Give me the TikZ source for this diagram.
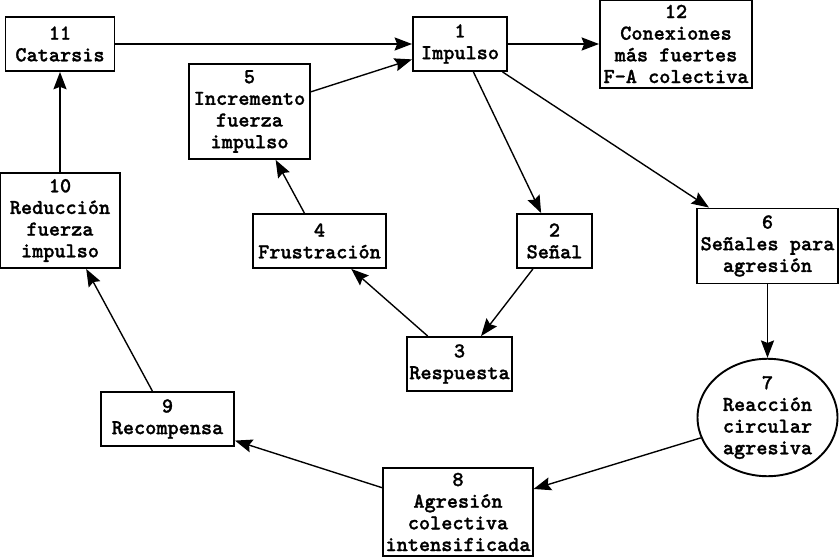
\documentclass[tikz,border=0pt]{standalone}
\usepackage{fontspec}
\newfontfamily\boxfont{lmmonolt10-bold.otf}[FakeBold=1.2]
\usepackage{tikz}
\usetikzlibrary{arrows.meta}
\usetikzlibrary{shapes.geometric}

\begin{document}
\begin{tikzpicture}[x=0.4708pt, y=-0.4708pt,
    box/.style={rectangle, draw, line width=0.9pt, align=center, inner sep=1pt,
      font=\fontsize{10}{10.2}\selectfont\boxfont},
    blob/.style={ellipse, draw, line width=0.9pt, align=center, inner sep=0pt,
      font=\fontsize{10}{10.2}\selectfont\boxfont},
    link/.style={line width=0.65pt, -{Stealth[length=8.2pt, width=6.2pt, inset=1.2pt]}}]
		\useasboundingbox (0,0) rectangle (840,558);

		% Upper row
		\node (Catarsis) at (60,44) [box, minimum width=51.3pt, minimum height=25.4pt] {11\\Catarsis};
		\node (Impulso) at (460,44) [box, minimum width=44.3pt, minimum height=25.4pt] {1\\Impulso};
		\node (Conexiones) at (676,44) [box, minimum width=71.6pt, minimum height=41.4pt] {12\\Conexiones\\más fuertes\\F-A colectiva};

		% Middle rows
		\node (Incremento) at (249.5,111.5) [box, minimum width=57pt, minimum height=44.7pt] {5\\Incremento\\fuerza\\impulso};
		\node (Reduccion) at (60,220.5) [box, minimum width=56.5pt, minimum height=44.7pt] {10\\Reducción\\fuerza\\impulso};
		\node (Frustracion) at (319.5,241) [box, minimum width=62.6pt, minimum height=25.4pt] {4\\Frustración};
		\node (Senal) at (554.5,241) [box, minimum width=35.3pt, minimum height=25.4pt] {2\\Señal};
		\node (Senales) at (767.5,246) [box, minimum width=66.2pt, minimum height=35.3pt] {6\\Señales para\\agresión};
		\node (Respuesta) at (459.5,364) [box, minimum width=49.4pt, minimum height=25.4pt] {3\\Respuesta};

		% Lower rows
		\node (Reaccion) at (767.5,417.5) [blob, minimum width=65.9pt, minimum height=47.6pt] {7\\Reacción\\circular\\agresiva};
		\node (Agresion) at (458,512) [box, minimum width=69.7pt, minimum height=41.4pt] {8\\Agresión\\colectiva\\intensificada};
		\node (Recompensa) at (167.5,419) [box, minimum width=62.6pt, minimum height=25.4pt] {9\\Recompensa};

		% Connections
		\draw [link] (Catarsis) -- (Impulso);
		\draw [link] (Impulso) -- (Conexiones);
		\draw [link] (Impulso) -- (Senal);
		\draw [link] (Impulso) -- (Senales);
		\draw [link] (Senal) -- (Respuesta);
		\draw [link] (Respuesta) -- (Frustracion);
		\draw [link] (Frustracion) -- (Incremento);
		\draw [link] (Incremento) -- (Impulso);
		\draw [link] (Senales) -- (Reaccion);
		\draw [link] (Reaccion) -- (Agresion);
		\draw [link] (Agresion) -- (Recompensa);
		\draw [link] (Recompensa) -- (Reduccion);
		\draw [link] (Reduccion) -- (Catarsis);
\end{tikzpicture}
\end{document}
